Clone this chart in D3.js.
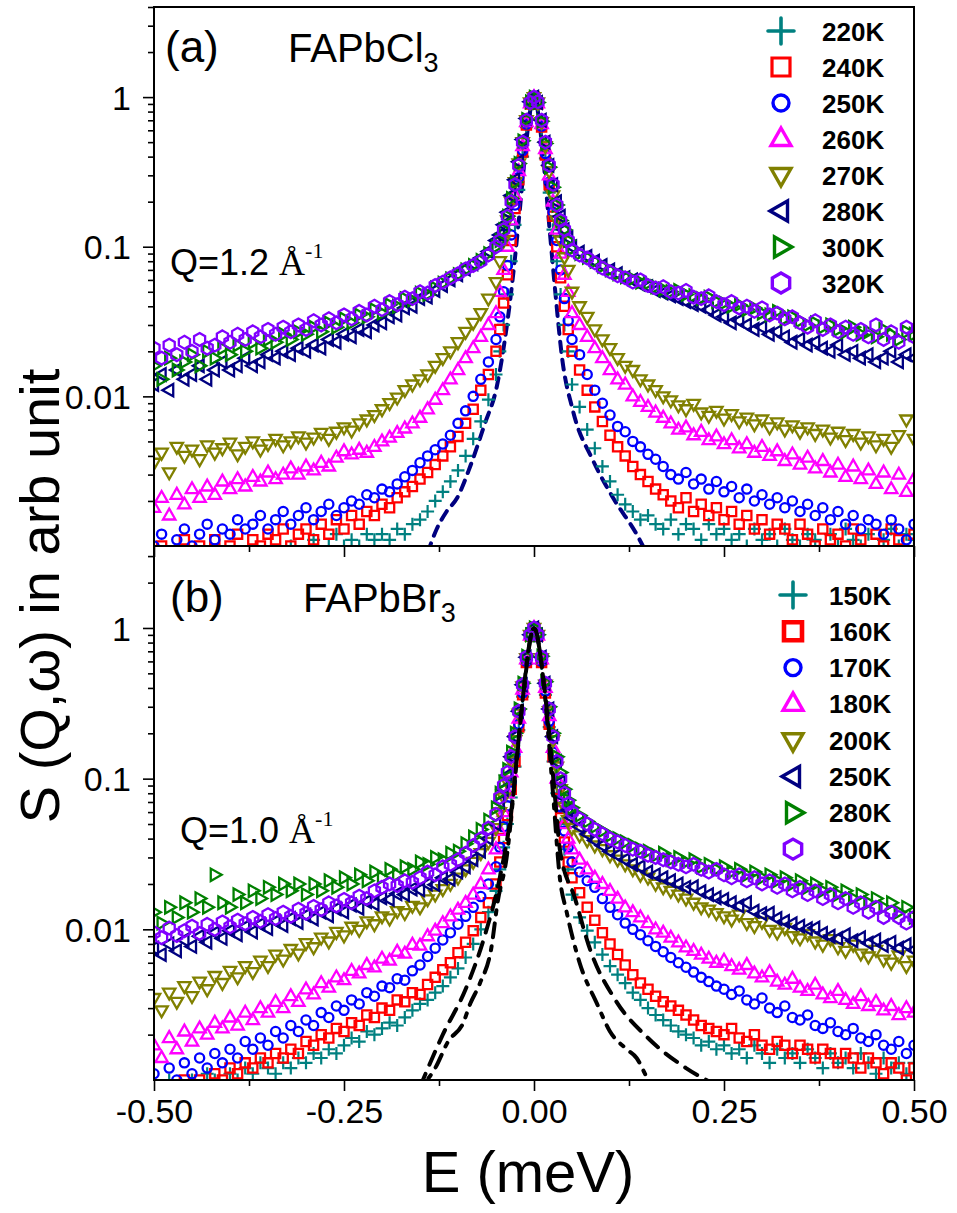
<!DOCTYPE html>
<html><head><meta charset="utf-8">
<script src="https://cdn.jsdelivr.net/npm/d3@7"></script>
<style>body{margin:0;background:#fff}</style>
</head><body><svg id="c" width="957" height="1213" xmlns="http://www.w3.org/2000/svg"></svg>
<script>
// ---------- DATA ----------
const energy = [
-0.5,-0.49,-0.48,-0.47,-0.46,-0.45,-0.44,-0.43,-0.42,-0.41,-0.4,-0.39,-0.38,-0.37,-0.36,-0.35,-0.34,-0.33,-0.32,-0.31,-0.3,-0.29,-0.28,-0.27,-0.26,-0.25,-0.24,-0.23,-0.22,-0.21,-0.2,-0.19,-0.18,-0.17,-0.16,-0.15,-0.14,-0.13,-0.12,-0.11,-0.1,-0.09,-0.08,-0.07,-0.06,-0.05,
-0.045,-0.04,-0.035,-0.03,-0.025,-0.02,-0.015,-0.01,-0.005,0,0.005,0.01,0.015,0.02,0.025,0.03,0.035,0.04,0.045,
0.05,0.06,0.07,0.08,0.09,0.1,0.11,0.12,0.13,0.14,0.15,0.16,0.17,0.18,0.19,0.2,0.21,0.22,0.23,0.24,0.25,0.26,0.27,0.28,0.29,0.3,0.31,0.32,0.33,0.34,0.35,0.36,0.37,0.38,0.39,0.4,0.41,0.42,0.43,0.44,0.45,0.46,0.47,0.48,0.49,0.5];

const xTicks = [-0.5,-0.25,0,0.25,0.5];
const xMinorTicks = [-0.375,-0.125,0.125,0.375];
const xTickLabels = ["-0.50","-0.25","0.00","0.25","0.50"];
const yTicks = [0.01,0.1,1];
const yTickLabels = ["0.01","0.1","1"];

const legendA = ["220K","240K","250K","260K","270K","280K","300K","320K"];
const legendB = ["150K","160K","170K","180K","200K","250K","280K","300K"];

// Panel (a) FAPbCl3, Q=1.2
const clK220 = [0.0007,0.0006,0.0008,0.0007,0.0006,0.0008,0.0007,0.0009,0.0007,0.0008,0.0006,0.0008,0.0007,0.0009,0.0008,0.0007,0.0009,0.0008,0.0010,0.0008,0.0009,0.0011,0.0009,0.0010,0.0012,0.0010,0.0011,0.0010,0.0012,0.0011,0.0012,0.0011,0.0013,0.0012,0.0014,0.0015,0.0017,0.0020,0.0023,0.0027,0.0032,0.0040,0.0052,0.0068,0.0095,0.014,
0.02,0.03,0.048,0.08,0.14,0.24,0.40,0.63,0.89,1.0,0.89,0.62,0.39,0.23,0.13,0.08,0.048,0.030,0.020,
0.012,0.0085,0.0060,0.0045,0.0034,0.0027,0.0022,0.0019,0.0017,0.0015,0.0016,0.0014,0.0013,0.0015,0.0012,0.0014,0.0013,0.0011,0.0014,0.0012,0.0013,0.0011,0.0012,0.0010,0.0013,0.0011,0.0012,0.0010,0.0013,0.0011,0.0010,0.0012,0.0011,0.0009,0.0012,0.0010,0.0013,0.0011,0.0010,0.0012,0.0009,0.0011,0.0013,0.0010,0.0012,0.0011];
const clK240 = [0.0008,0.0010,0.0007,0.0009,0.0011,0.0008,0.0010,0.0009,0.0011,0.0008,0.0010,0.0012,0.0009,0.0011,0.0010,0.0012,0.0011,0.0013,0.0010,0.0012,0.0013,0.0011,0.0014,0.0012,0.0015,0.0013,0.0016,0.0014,0.0017,0.0016,0.0019,0.0018,0.0021,0.0023,0.0025,0.0028,0.0031,0.0035,0.0040,0.0046,0.0054,0.0066,0.0082,0.011,0.014,0.020,
0.028,0.042,0.065,0.11,0.18,0.28,0.43,0.65,0.90,1.0,0.90,0.63,0.41,0.26,0.16,0.10,0.062,0.040,0.028,
0.020,0.015,0.011,0.0085,0.0068,0.0055,0.0046,0.0040,0.0034,0.0030,0.0027,0.0024,0.0022,0.0020,0.0018,0.0021,0.0017,0.0019,0.0016,0.0018,0.0015,0.0017,0.0014,0.0016,0.0013,0.0015,0.0012,0.0014,0.0013,0.0011,0.0014,0.0012,0.0010,0.0013,0.0011,0.0012,0.0010,0.0013,0.0011,0.0009,0.0012,0.0010,0.0013,0.0011,0.0009,0.0012];
const clK250 = [0.0010,0.0012,0.0009,0.0011,0.0013,0.0010,0.0012,0.0014,0.0011,0.0013,0.0012,0.0015,0.0013,0.0014,0.0016,0.0013,0.0015,0.0017,0.0014,0.0016,0.0018,0.0015,0.0017,0.0019,0.0016,0.0018,0.0020,0.0019,0.0022,0.0021,0.0024,0.0023,0.0026,0.0029,0.0032,0.0036,0.0040,0.0044,0.0048,0.0055,0.0066,0.0080,0.0100,0.013,0.017,0.024,
0.034,0.05,0.075,0.12,0.19,0.29,0.44,0.66,0.90,1.0,0.90,0.64,0.42,0.27,0.17,0.11,0.07,0.045,0.032,
0.024,0.019,0.014,0.011,0.0090,0.0075,0.0063,0.0058,0.0050,0.0046,0.0041,0.0038,0.0034,0.0030,0.0028,0.0031,0.0026,0.0028,0.0024,0.0027,0.0023,0.0025,0.0021,0.0024,0.0020,0.0022,0.0019,0.0021,0.0018,0.0020,0.0017,0.0019,0.0016,0.0018,0.0015,0.0017,0.0014,0.0016,0.0013,0.0015,0.0014,0.0012,0.0015,0.0013,0.0011,0.0014];
const clK260 = [0.0018,0.0021,0.0016,0.0022,0.0019,0.0024,0.0021,0.0025,0.0022,0.0027,0.0024,0.0028,0.0025,0.0029,0.0027,0.0031,0.0028,0.0030,0.0033,0.0030,0.0034,0.0032,0.0036,0.0034,0.0039,0.0043,0.0041,0.0044,0.0042,0.0046,0.0050,0.0053,0.0057,0.0061,0.0066,0.0072,0.0082,0.0095,0.011,0.013,0.015,0.018,0.021,0.025,0.030,0.036,
0.05,0.07,0.10,0.15,0.22,0.32,0.47,0.68,0.91,1.0,0.91,0.66,0.45,0.30,0.20,0.13,0.09,0.065,0.05,
0.036,0.030,0.025,0.021,0.018,0.015,0.013,0.012,0.010,0.0092,0.0085,0.0078,0.0072,0.0066,0.0060,0.0062,0.0055,0.0058,0.0051,0.0054,0.0048,0.0051,0.0045,0.0048,0.0042,0.0046,0.0040,0.0043,0.0037,0.0041,0.0035,0.0039,0.0033,0.0037,0.0031,0.0035,0.0029,0.0034,0.0028,0.0032,0.0026,0.0031,0.0024,0.0030,0.0023,0.0028];
const clK270 = [0.0036,0.0042,0.0031,0.0046,0.0040,0.0044,0.0038,0.0047,0.0042,0.0045,0.0049,0.0041,0.0046,0.0050,0.0044,0.0048,0.0052,0.0047,0.0050,0.0054,0.0049,0.0053,0.0057,0.0052,0.0058,0.0062,0.0059,0.0066,0.0070,0.0075,0.0082,0.0090,0.0098,0.011,0.012,0.013,0.014,0.016,0.018,0.020,0.023,0.027,0.031,0.036,0.045,0.058,
0.08,0.11,0.15,0.20,0.27,0.36,0.50,0.70,0.92,1.0,0.92,0.68,0.47,0.32,0.22,0.15,0.11,0.085,0.07,
0.050,0.040,0.034,0.028,0.024,0.021,0.018,0.016,0.015,0.013,0.012,0.011,0.010,0.0094,0.0087,0.0082,0.0089,0.0078,0.0074,0.0080,0.0071,0.0076,0.0068,0.0072,0.0065,0.0070,0.0062,0.0067,0.0060,0.0064,0.0058,0.0062,0.0056,0.0060,0.0053,0.0058,0.0051,0.0056,0.0049,0.0054,0.0047,0.0052,0.0046,0.0055,0.0070,0.0052];
const clK280 = [0.012,0.014,0.011,0.015,0.013,0.014,0.016,0.013,0.015,0.017,0.015,0.016,0.018,0.016,0.017,0.019,0.018,0.020,0.019,0.021,0.020,0.022,0.021,0.024,0.023,0.026,0.025,0.028,0.027,0.030,0.031,0.034,0.035,0.039,0.040,0.045,0.046,0.051,0.055,0.060,0.065,0.071,0.077,0.084,0.093,0.11,
0.12,0.14,0.17,0.22,0.28,0.37,0.52,0.72,0.93,1.0,0.92,0.70,0.50,0.35,0.26,0.20,0.16,0.13,0.115,
0.10,0.092,0.086,0.080,0.075,0.070,0.066,0.062,0.060,0.056,0.054,0.051,0.049,0.047,0.045,0.043,0.041,0.040,0.038,0.035,0.034,0.031,0.032,0.030,0.028,0.029,0.026,0.027,0.025,0.023,0.024,0.022,0.023,0.021,0.020,0.022,0.019,0.020,0.018,0.019,0.017,0.018,0.020,0.017,0.019,0.018];
const clK300 = [0.016,0.013,0.018,0.015,0.017,0.019,0.016,0.020,0.018,0.021,0.019,0.022,0.020,0.023,0.021,0.024,0.023,0.026,0.024,0.027,0.026,0.029,0.027,0.031,0.029,0.033,0.031,0.035,0.034,0.038,0.036,0.041,0.040,0.045,0.044,0.049,0.048,0.053,0.057,0.061,0.065,0.070,0.075,0.081,0.090,0.10,
0.11,0.13,0.16,0.21,0.27,0.36,0.51,0.71,0.93,1.0,0.92,0.69,0.49,0.34,0.25,0.19,0.15,0.13,0.11,
0.097,0.090,0.085,0.080,0.074,0.070,0.066,0.063,0.061,0.058,0.057,0.054,0.052,0.050,0.051,0.048,0.047,0.045,0.046,0.043,0.042,0.040,0.041,0.038,0.039,0.036,0.035,0.037,0.033,0.034,0.032,0.030,0.031,0.029,0.030,0.028,0.027,0.029,0.026,0.027,0.025,0.028,0.026,0.024,0.027,0.026];
const clK320 = [0.021,0.018,0.022,0.019,0.023,0.020,0.024,0.021,0.022,0.025,0.023,0.026,0.024,0.027,0.025,0.028,0.026,0.029,0.027,0.030,0.028,0.032,0.030,0.033,0.031,0.035,0.033,0.037,0.035,0.040,0.038,0.043,0.041,0.046,0.045,0.050,0.049,0.055,0.058,0.062,0.066,0.071,0.075,0.080,0.088,0.10,
0.11,0.13,0.16,0.20,0.26,0.35,0.50,0.70,0.92,1.0,0.93,0.70,0.50,0.35,0.26,0.19,0.15,0.13,0.11,
0.095,0.088,0.084,0.078,0.072,0.068,0.064,0.062,0.058,0.060,0.055,0.053,0.054,0.050,0.049,0.051,0.046,0.045,0.047,0.043,0.041,0.043,0.039,0.040,0.037,0.039,0.035,0.036,0.033,0.034,0.031,0.029,0.032,0.028,0.030,0.027,0.029,0.026,0.028,0.025,0.030,0.024,0.027,0.023,0.029,0.025];

// resolution curve (a): [E, S]
const resA = [[-0.14,0.0009],[-0.128,0.0013],[-0.115,0.0017],[-0.101,0.0021],[-0.084,0.0034],[-0.065,0.0065],[-0.049,0.0116],[-0.036,0.029],[-0.03,0.05],[-0.02,0.15],[-0.012,0.4],[-0.006,0.75],[0,1],[0.006,0.75],[0.012,0.4],[0.02,0.14],[0.028,0.05],[0.037,0.018],[0.051,0.0081],[0.078,0.0037],[0.104,0.0021],[0.135,0.0012],[0.148,0.0009]];

// Panel (b) FAPbBr3, Q=1.0
const brK150 = [0.0009,0.0008,0.0010,0.0009,0.0008,0.0010,0.0009,0.0011,0.0010,0.0009,0.0011,0.0010,0.0012,0.0011,0.0013,0.0012,0.0011,0.0013,0.0012,0.0014,0.0013,0.0015,0.0014,0.0016,0.0015,0.0017,0.0019,0.0018,0.0021,0.0020,0.0022,0.0024,0.0023,0.0026,0.0029,0.0032,0.0034,0.0038,0.0042,0.0048,0.0055,0.0065,0.0080,0.0100,0.0130,0.018,
0.025,0.035,0.05,0.075,0.12,0.21,0.35,0.58,0.88,1.0,0.88,0.58,0.36,0.22,0.13,0.08,0.05,0.034,0.025,
0.017,0.012,0.0098,0.0082,0.0068,0.0057,0.0050,0.0044,0.0038,0.0034,0.0030,0.0027,0.0025,0.0023,0.0021,0.0020,0.0019,0.0017,0.0018,0.0016,0.0017,0.0015,0.0016,0.0014,0.0017,0.0015,0.0013,0.0016,0.0014,0.0015,0.0013,0.0016,0.0014,0.0012,0.0015,0.0013,0.0014,0.0012,0.0015,0.0013,0.0011,0.0014,0.0012,0.0013,0.0011,0.0013];
const brK160 = [0.0008,0.0007,0.0009,0.0008,0.0010,0.0009,0.0010,0.0009,0.0011,0.0010,0.0012,0.0011,0.0013,0.0012,0.0014,0.0013,0.0015,0.0014,0.0016,0.0015,0.0018,0.0017,0.0020,0.0019,0.0022,0.0021,0.0024,0.0023,0.0027,0.0026,0.0030,0.0029,0.0034,0.0033,0.0038,0.0037,0.0043,0.0048,0.0054,0.0060,0.0070,0.0082,0.0098,0.0120,0.0150,0.020,
0.028,0.04,0.057,0.085,0.13,0.22,0.36,0.59,0.88,1.0,0.88,0.59,0.37,0.23,0.14,0.085,0.055,0.038,0.028,
0.022,0.0175,0.014,0.0115,0.0095,0.0080,0.0068,0.0058,0.0050,0.0044,0.0040,0.0036,0.0033,0.0031,0.0029,0.0027,0.0025,0.0023,0.0022,0.0021,0.0020,0.0022,0.0019,0.0018,0.0020,0.0017,0.0016,0.0018,0.0017,0.0015,0.0017,0.0016,0.0014,0.0016,0.0015,0.0013,0.0015,0.0014,0.0012,0.0014,0.0013,0.0011,0.0013,0.0012,0.0010,0.0012];
const brK170 = [0.0011,0.0009,0.0012,0.0010,0.0013,0.0011,0.0014,0.0012,0.0015,0.0013,0.0016,0.0014,0.0018,0.0016,0.0019,0.0017,0.0021,0.0019,0.0023,0.0021,0.0025,0.0023,0.0028,0.0026,0.0031,0.0029,0.0034,0.0032,0.0038,0.0036,0.0042,0.0041,0.0047,0.0046,0.0053,0.0058,0.0066,0.0075,0.0085,0.0095,0.0108,0.0122,0.0140,0.0165,0.020,0.026,
0.035,0.048,0.066,0.095,0.145,0.23,0.37,0.60,0.89,1.0,0.89,0.60,0.38,0.24,0.15,0.095,0.065,0.045,0.035,
0.028,0.024,0.021,0.019,0.016,0.014,0.0125,0.011,0.010,0.0092,0.0084,0.0077,0.0071,0.0065,0.0060,0.0056,0.0052,0.0048,0.0045,0.0042,0.0040,0.0037,0.0039,0.0034,0.0032,0.0035,0.0030,0.0028,0.0031,0.0026,0.0025,0.0027,0.0023,0.0022,0.0024,0.0021,0.0020,0.0022,0.0019,0.0018,0.0020,0.0017,0.0016,0.0018,0.0015,0.0017];
const brK180 = [0.0017,0.0014,0.0019,0.0016,0.0021,0.0018,0.0022,0.0020,0.0024,0.0022,0.0026,0.0023,0.0028,0.0025,0.0030,0.0028,0.0033,0.0030,0.0036,0.0033,0.0040,0.0037,0.0044,0.0041,0.0048,0.0046,0.0053,0.0051,0.0058,0.0056,0.0064,0.0062,0.0071,0.0069,0.0079,0.0078,0.0090,0.0098,0.0110,0.0122,0.0135,0.0150,0.0170,0.020,0.025,0.034,
0.045,0.06,0.08,0.11,0.16,0.25,0.39,0.62,0.89,1.0,0.89,0.62,0.40,0.26,0.16,0.10,0.07,0.05,0.04,
0.034,0.029,0.025,0.022,0.020,0.018,0.016,0.014,0.013,0.012,0.011,0.010,0.0095,0.0088,0.0082,0.0076,0.0072,0.0068,0.0064,0.0060,0.0062,0.0057,0.0054,0.0058,0.0051,0.0048,0.0052,0.0045,0.0043,0.0047,0.0041,0.0039,0.0043,0.0037,0.0035,0.0039,0.0034,0.0032,0.0036,0.0031,0.0033,0.0029,0.0031,0.0027,0.0030,0.0028];
const brK200 = [0.0035,0.0029,0.0038,0.0033,0.0042,0.0036,0.0045,0.0040,0.0049,0.0044,0.0053,0.0048,0.0057,0.0052,0.0062,0.0057,0.0068,0.0063,0.0074,0.0069,0.0081,0.0076,0.0088,0.0083,0.0096,0.0091,0.0104,0.0099,0.0113,0.0108,0.0122,0.0118,0.0132,0.0128,0.0143,0.0140,0.0158,0.0170,0.0185,0.020,0.022,0.025,0.028,0.032,0.038,0.047,
0.06,0.075,0.095,0.13,0.18,0.27,0.41,0.63,0.90,1.0,0.90,0.63,0.42,0.28,0.18,0.12,0.085,0.065,0.053,
0.047,0.042,0.039,0.036,0.034,0.031,0.029,0.027,0.025,0.023,0.022,0.020,0.019,0.018,0.017,0.016,0.015,0.014,0.0135,0.0128,0.0122,0.0116,0.0125,0.0110,0.0105,0.0112,0.0099,0.0095,0.0102,0.0090,0.0087,0.0093,0.0083,0.0079,0.0086,0.0076,0.0072,0.0079,0.0069,0.0066,0.0073,0.0063,0.0060,0.0067,0.0057,0.0062];
const brK250 = [0.0075,0.0068,0.0080,0.0072,0.0085,0.0077,0.0090,0.0082,0.0095,0.0087,0.0098,0.0092,0.0104,0.0096,0.0108,0.0101,0.0113,0.0106,0.0118,0.0111,0.0124,0.0117,0.0130,0.0123,0.0137,0.0130,0.0145,0.0138,0.0153,0.0147,0.0162,0.0158,0.0172,0.0170,0.0185,0.0183,0.0200,0.0198,0.022,0.0215,0.024,0.026,0.029,0.033,0.040,0.050,
0.07,0.085,0.105,0.14,0.19,0.28,0.42,0.64,0.90,1.0,0.90,0.64,0.43,0.29,0.19,0.13,0.095,0.075,0.062,
0.055,0.048,0.043,0.039,0.036,0.033,0.031,0.029,0.027,0.026,0.024,0.023,0.022,0.021,0.020,0.019,0.0192,0.0178,0.0170,0.0162,0.0158,0.0150,0.0143,0.0150,0.0132,0.0127,0.0128,0.0118,0.0113,0.0109,0.0105,0.0101,0.0102,0.0094,0.0090,0.0087,0.0092,0.0084,0.0088,0.0081,0.0085,0.0078,0.0082,0.0075,0.0079,0.0073];
const brK280 = [0.013,0.011,0.014,0.012,0.015,0.013,0.016,0.014,0.023,0.015,0.014,0.017,0.015,0.018,0.016,0.019,0.017,0.020,0.018,0.020,0.017,0.020,0.018,0.021,0.019,0.022,0.020,0.023,0.021,0.024,0.022,0.025,0.023,0.026,0.025,0.028,0.027,0.030,0.029,0.032,0.033,0.037,0.041,0.046,0.053,0.064,
0.08,0.095,0.115,0.15,0.20,0.29,0.43,0.65,0.90,1.0,0.90,0.65,0.44,0.30,0.20,0.14,0.11,0.085,0.072,
0.064,0.057,0.052,0.048,0.045,0.042,0.040,0.038,0.036,0.034,0.033,0.031,0.032,0.029,0.030,0.028,0.029,0.026,0.027,0.025,0.026,0.024,0.025,0.023,0.024,0.022,0.023,0.021,0.022,0.020,0.021,0.019,0.020,0.018,0.019,0.017,0.018,0.016,0.017,0.015,0.016,0.014,0.015,0.013,0.014,0.012];
const brK300 = [0.0095,0.0088,0.0102,0.0091,0.0098,0.0105,0.0094,0.0108,0.0100,0.0112,0.0104,0.0115,0.0109,0.0120,0.0113,0.0125,0.0118,0.0130,0.0122,0.0136,0.0128,0.0142,0.0135,0.0150,0.0143,0.0158,0.0150,0.0166,0.0160,0.0180,0.0190,0.0200,0.0195,0.0210,0.0205,0.022,0.024,0.023,0.026,0.027,0.029,0.032,0.036,0.040,0.047,0.058,
0.075,0.09,0.11,0.14,0.19,0.28,0.42,0.64,0.90,1.0,0.90,0.64,0.43,0.29,0.19,0.13,0.10,0.08,0.068,
0.060,0.054,0.050,0.046,0.043,0.040,0.038,0.036,0.034,0.033,0.031,0.030,0.029,0.028,0.027,0.026,0.027,0.025,0.024,0.025,0.023,0.022,0.023,0.021,0.022,0.020,0.021,0.019,0.020,0.018,0.019,0.017,0.018,0.016,0.017,0.015,0.016,0.014,0.015,0.013,0.014,0.012,0.013,0.012,0.011,0.012];

// model curves (b): [E, S]
const curveB1 = [[-0.16,0.0008],[-0.13,0.0012],[-0.113,0.0018],[-0.093,0.0024],[-0.084,0.0032],[-0.071,0.0044],[-0.056,0.0076],[-0.048,0.015],[-0.036,0.03],[-0.025,0.1],[-0.015,0.33],[-0.008,0.68],[0,1],[0.008,0.68],[0.015,0.33],[0.025,0.08],[0.034,0.022],[0.043,0.013],[0.06,0.006],[0.083,0.0032],[0.1,0.0021],[0.122,0.0016],[0.135,0.0014],[0.15,0.0010],[0.16,0.0008]];
const curveB2 = [[-0.15,0.0009],[-0.12,0.002],[-0.09,0.004],[-0.065,0.009],[-0.045,0.022],[-0.03,0.06],[-0.015,0.33],[0,1],[0.015,0.35],[0.028,0.072],[0.034,0.034],[0.054,0.016],[0.074,0.0073],[0.107,0.0034],[0.15,0.0019],[0.2,0.0012],[0.245,0.0009]];

// ---------- DRAW ----------
const FONT = "'Liberation Sans', Arial, Helvetica, sans-serif";
const svg = d3.select("#c");
svg.append("rect").attr("width",957).attr("height",1213).attr("fill","#fff");

const X0 = 154, X1 = 914;
const x = d3.scaleLinear().domain([-0.5,0.5]).range([X0,X1]);

function shape(type, r){
  switch(type){
    case "plus": return `M${-r},0H${r}M0,${-r}V${r}`;
    case "square": return `M${-r},${-r}H${r}V${r}H${-r}Z`;
    case "circle": return `M${r},0A${r},${r} 0 1,1 ${-r},0A${r},${r} 0 1,1 ${r},0Z`;
    case "up": return `M0,${-r*1.1}L${r},${r*0.65}L${-r},${r*0.65}Z`;
    case "down": return `M0,${r*1.1}L${r},${-r*0.65}L${-r},${-r*0.65}Z`;
    case "left": return `M${-r*1.1},0L${r*0.65},${-r}L${r*0.65},${r}Z`;
    case "right": return `M${r*1.1},0L${-r*0.65},${-r}L${-r*0.65},${r}Z`;
    case "hex": {
      const p = d3.range(6).map(i=>{const a=(-90+60*i)*Math.PI/180; return [r*Math.cos(a), r*Math.sin(a)];});
      return "M"+p.map(q=>q[0].toFixed(2)+","+q[1].toFixed(2)).join("L")+"Z";
    }
  }
}
const styles = [
  {shape:"plus",   color:"#008080", r:6.5, lr:13},
  {shape:"square", color:"#FF0000", r:4.6, lr:9},
  {shape:"circle", color:"#0000FF", r:4.6, lr:8},
  {shape:"up",     color:"#FF00FF", r:6.2, lr:10},
  {shape:"down",   color:"#808000", r:6.2, lr:10},
  {shape:"left",   color:"#000080", r:6.2, lr:10},
  {shape:"right",  color:"#008000", r:6.2, lr:10},
  {shape:"hex",    color:"#8000FF", r:6.4, lr:10}
];

const panels = [
  {id:"a", top:7, bottom:546, ymax:4, series:[clK220,clK240,clK250,clK260,clK270,clK280,clK300,clK320], legend:legendA,
   lx:781, ltx:822, ly0:31, ldy:36, squareStroke:3.2,
   label:"(a)", labX:165, labY:62, mat:"FAPbCl", matX:288, matY:62, q:"Q=1.2 ", qX:170, qY:275,
   lines:[{pts:resA, color:"#000080", dash:"10,8", under:true}], xLabels:false},
  {id:"b", top:546, bottom:1080, ymax:3.5, series:[brK150,brK160,brK170,brK180,brK200,brK250,brK280,brK300], legend:legendB,
   lx:793, ltx:829, ly0:595, ldy:36.3, squareStroke:4.6,
   label:"(b)", labX:170, labY:612, mat:"FAPbBr", matX:303, matY:612, q:"Q=1.0 ", qX:180, qY:843,
   lines:[{pts:curveB1, color:"#000", dash:"14,9,4,9", under:false},{pts:curveB2, color:"#000", dash:"14,10", under:false}], xLabels:true}
];

panels.forEach(P=>{
  const y = d3.scaleLog().domain([0.001, P.ymax]).range([P.bottom, P.top]);
  const g = svg.append("g");
  const clipId = "clip"+P.id;
  svg.append("clipPath").attr("id",clipId).append("rect")
    .attr("x",X0).attr("y",P.top).attr("width",X1-X0).attr("height",P.bottom-P.top);
  const plot = g.append("g").attr("clip-path",`url(#${clipId})`);
  const under = plot.append("g");
  const marks = plot.append("g");
  const over = plot.append("g");

  P.series.forEach((vals,si)=>{
    const st = styles[si];
    const pts = energy.map((e,i)=>[e, vals[i]]).filter(d=>d[1]!=null);
    marks.append("g").selectAll("path").data(pts).join("path")
      .attr("d", shape(st.shape, st.r))
      .attr("transform", d=>`translate(${x(d[0]).toFixed(2)},${y(d[1]).toFixed(2)})`)
      .attr("fill","none").attr("stroke",st.color)
      .attr("stroke-width", st.shape==="plus"?2.2:2.3);
  });

  const line = d3.line().x(d=>x(d[0])).y(d=>y(d[1])).curve(d3.curveMonotoneX);
  P.lines.forEach(L=>{
    (L.under?under:over).append("path").attr("d", line(L.pts)).attr("fill","none")
      .attr("stroke",L.color).attr("stroke-width",4).attr("stroke-dasharray",L.dash)
      .attr("stroke-linecap","round");
  });

  // axes
  const minor = [];
  [0.001,0.01,0.1,1].forEach(dec=>{ for(let k=2;k<=9;k++){ const v=dec*k; if(v<=P.ymax*1.0001) minor.push(v);} });
  const ya = d3.axisLeft(y).tickValues(yTicks).tickSize(11).tickFormat((d,i)=>yTickLabels[i]);
  const yg = g.append("g").attr("transform",`translate(${X0},0)`).call(ya);
  const ym = g.append("g").attr("transform",`translate(${X0},0)`).call(d3.axisLeft(y).tickValues(minor).tickSize(6).tickFormat(""));
  [yg,ym].forEach(a=>{a.select(".domain").remove(); a.selectAll("line").attr("stroke","#000").attr("stroke-width",1.6);});
  yg.selectAll("text").attr("font-family",FONT).attr("font-size",34).attr("fill","#000").attr("x",-23).attr("dy","0.36em");

  const xa = d3.axisBottom(x).tickValues(xTicks).tickSize(11).tickFormat(P.xLabels?((d,i)=>xTickLabels[i]):"");
  const xg = g.append("g").attr("transform",`translate(0,${P.bottom})`).call(xa);
  const xm = g.append("g").attr("transform",`translate(0,${P.bottom})`).call(d3.axisBottom(x).tickValues(xMinorTicks).tickSize(6).tickFormat(""));
  [xg,xm].forEach(a=>{a.select(".domain").remove(); a.selectAll("line").attr("stroke","#000").attr("stroke-width",1.6);});
  xg.selectAll("text").attr("font-family",FONT).attr("font-size",34).attr("fill","#000").attr("y",19).attr("dy","0.71em");

  g.append("rect").attr("x",X0).attr("y",P.top).attr("width",X1-X0).attr("height",P.bottom-P.top)
    .attr("fill","none").attr("stroke","#000").attr("stroke-width",2);

  // legend
  P.legend.forEach((lab,i)=>{
    const st = styles[i];
    const cy = P.ly0 + i*P.ldy;
    g.append("path").attr("d", shape(st.shape, st.lr))
      .attr("transform",`translate(${P.lx},${cy})`)
      .attr("fill","none").attr("stroke",st.color)
      .attr("stroke-width", st.shape==="square"?P.squareStroke:(st.shape==="plus"?3.6:3.4))
      .attr("stroke-linecap", st.shape==="plus"?"round":"butt");
    g.append("text").attr("x",P.ltx).attr("y",cy+9.5).text(lab)
      .attr("font-family",FONT).attr("font-size",26).attr("font-weight","bold").attr("fill","#000");
  });

  // annotations
  g.append("text").attr("x",P.labX).attr("y",P.labY).text(P.label)
    .attr("font-family",FONT).attr("font-size",44).attr("fill","#000");
  const mt = g.append("text").attr("x",P.matX).attr("y",P.matY)
    .attr("font-family",FONT).attr("font-size",40).attr("fill","#000");
  mt.append("tspan").text(P.mat);
  mt.append("tspan").attr("font-size",27).attr("dy",10).text("3");
  const qt = g.append("text").attr("x",P.qX).attr("y",P.qY)
    .attr("font-family",FONT).attr("font-size",36).attr("fill","#000");
  qt.append("tspan").text(P.q);
  qt.append("tspan").attr("font-family","'Liberation Serif', 'Times New Roman', serif").text("Å");
  qt.append("tspan").attr("font-family","'Liberation Serif', 'Times New Roman', serif").attr("font-size",22).attr("dy",-17).text("-1");
});

// axis titles
svg.append("text").attr("x",528).attr("y",1192).attr("text-anchor","middle")
  .attr("font-family",FONT).attr("font-size",58).attr("fill","#000").text("E (meV)");
svg.append("text").attr("transform","translate(59,596) rotate(-90)").attr("text-anchor","middle")
  .attr("font-family",FONT).attr("font-size",56).attr("fill","#000").text("S (Q,ω) in arb unit");
</script>
</body></html>
